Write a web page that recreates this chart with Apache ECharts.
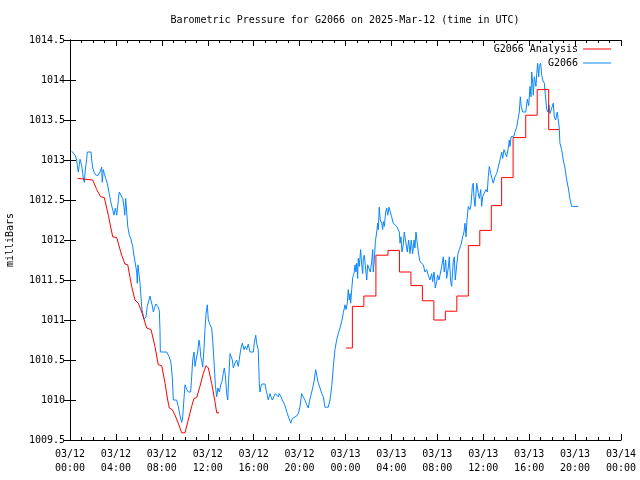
<!DOCTYPE html>
<html>
<head>
<meta charset="utf-8">
<script src="https://cdn.jsdelivr.net/npm/echarts@6/dist/echarts.min.js"></script>
<style>html,body{margin:0;padding:0;background:#fff}#c{width:640px;height:480px}</style>
</head>
<body>
<div id="c"></div>
<script>
// X tick labels (every 4 hours from 2025-03-12 00:00 UTC)
var xTickLabels = ['03/12\n00:00','03/12\n04:00','03/12\n08:00','03/12\n12:00','03/12\n16:00','03/12\n20:00','03/13\n00:00','03/13\n04:00','03/13\n08:00','03/13\n12:00','03/13\n16:00','03/13\n20:00','03/14\n00:00'];
var seriesNames = ['G2066 Analysis', 'G2066'];

// Observations: [hours since 03/12 00:00 UTC, milliBars]
var obs = [[0.15,1013.11],[0.44,1013.06],[0.58,1013.00],[0.64,1012.93],[0.72,1012.85],[0.81,1012.94],[0.87,1013.01],[0.96,1013.01],[1.02,1012.93],[1.11,1012.83],[1.16,1012.77],[1.25,1012.72],[1.31,1012.85],[1.39,1012.94],[1.45,1013.01],[1.51,1013.10],[1.83,1013.10],[1.89,1013.00],[1.98,1012.90],[2.12,1012.84],[2.26,1012.81],[2.47,1012.81],[2.61,1012.85],[2.76,1012.91],[2.81,1012.72],[2.90,1012.88],[2.99,1012.83],[3.11,1012.77],[3.25,1012.71],[3.42,1012.58],[3.55,1012.48],[3.68,1012.40],[3.83,1012.31],[3.95,1012.40],[4.07,1012.31],[4.21,1012.50],[4.29,1012.60],[4.44,1012.58],[4.59,1012.52],[4.70,1012.42],[4.77,1012.31],[4.85,1012.52],[4.94,1012.51],[5.03,1012.17],[5.17,1012.06],[5.29,1012.02],[5.46,1011.92],[5.58,1011.80],[5.75,1011.80],[5.81,1011.60],[5.86,1011.46],[5.92,1011.69],[6.01,1011.69],[6.10,1011.46],[6.16,1011.33],[6.27,1011.13],[6.45,1011.01],[6.62,1011.04],[6.73,1011.17],[6.88,1011.25],[6.97,1011.30],[7.06,1011.24],[7.17,1011.18],[7.26,1011.10],[7.38,1011.16],[7.49,1011.20],[7.64,1011.17],[7.78,1011.12],[7.84,1010.88],[7.87,1010.60],[8.42,1010.60],[8.65,1010.54],[8.80,1010.46],[8.91,1010.29],[9.00,1010.00],[9.29,1010.00],[9.43,1009.92],[9.58,1009.81],[9.73,1009.72],[9.82,1009.79],[9.93,1010.02],[10.02,1010.19],[10.17,1010.13],[10.31,1010.10],[10.51,1010.10],[10.60,1010.29],[10.69,1010.50],[10.80,1010.60],[10.89,1010.42],[10.98,1010.50],[11.12,1010.60],[11.24,1010.75],[11.32,1010.67],[11.39,1010.54],[11.47,1010.50],[11.56,1010.41],[11.67,1010.63],[11.76,1010.88],[11.85,1011.08],[11.96,1011.19],[12.05,1011.00],[12.20,1010.94],[12.34,1010.90],[12.43,1010.75],[12.54,1010.50],[12.66,1010.19],[12.78,1010.04],[12.89,1010.15],[13.01,1010.10],[13.13,1010.19],[13.24,1010.23],[13.35,1010.33],[13.44,1010.40],[13.53,1010.31],[13.65,1010.08],[13.74,1010.00],[13.82,1010.25],[13.94,1010.58],[14.02,1010.60],[14.14,1010.50],[14.23,1010.40],[14.37,1010.46],[14.52,1010.50],[14.66,1010.42],[14.81,1010.44],[14.87,1010.63],[15.01,1010.71],[15.16,1010.63],[15.27,1010.67],[15.39,1010.63],[15.53,1010.70],[15.68,1010.60],[15.97,1010.60],[16.05,1010.71],[16.18,1010.81],[16.26,1010.71],[16.40,1010.63],[16.49,1010.21],[16.55,1010.10],[16.64,1010.17],[16.73,1010.20],[16.99,1010.20],[17.07,1010.13],[17.19,1010.06],[17.27,1010.00],[17.42,1010.08],[17.51,1010.04],[17.62,1010.00],[17.77,1010.00],[17.88,1010.08],[18.01,1010.06],[18.15,1010.04],[18.23,1010.08],[18.38,1010.04],[18.49,1010.00],[18.64,1009.96],[18.79,1009.90],[18.93,1009.83],[19.08,1009.77],[19.23,1009.71],[19.37,1009.77],[19.51,1009.79],[19.75,1009.80],[19.89,1009.83],[20.04,1009.92],[20.18,1010.08],[20.32,1010.04],[20.47,1010.00],[20.62,1009.94],[20.76,1009.90],[20.85,1009.98],[20.99,1010.06],[21.14,1010.15],[21.28,1010.25],[21.40,1010.38],[21.49,1010.31],[21.63,1010.21],[21.78,1010.15],[21.93,1010.08],[22.07,1010.04],[22.21,1009.91],[22.50,1009.91],[22.65,1010.00],[22.80,1010.17],[22.94,1010.42],[23.08,1010.63],[23.23,1010.75],[23.37,1010.83],[23.52,1010.90],[23.67,1010.98],[23.81,1011.09],[23.96,1011.19],[24.04,1011.13],[24.16,1011.21],[24.24,1011.38],[24.33,1011.25],[24.39,1011.33],[24.45,1011.21],[24.54,1011.38],[24.63,1011.53],[24.74,1011.58],[24.83,1011.69],[24.91,1011.60],[24.98,1011.71],[25.06,1011.52],[25.11,1011.77],[25.20,1011.67],[25.32,1011.88],[25.41,1011.69],[25.50,1011.58],[25.55,1011.77],[25.64,1011.81],[25.72,1011.69],[25.85,1011.50],[25.93,1011.69],[26.07,1011.69],[26.16,1011.60],[26.28,1011.73],[26.37,1011.88],[26.42,1011.60],[26.51,1011.75],[26.60,1011.98],[26.72,1012.10],[26.80,1012.21],[26.86,1012.13],[26.94,1012.41],[27.03,1012.25],[27.15,1012.21],[27.24,1012.13],[27.29,1012.23],[27.38,1012.17],[27.50,1012.35],[27.59,1012.40],[27.68,1012.31],[27.79,1012.41],[27.94,1012.41],[28.02,1012.29],[28.16,1012.21],[28.31,1012.21],[28.46,1012.17],[28.60,1012.17],[28.69,1012.10],[28.75,1011.96],[28.83,1012.04],[28.92,1011.85],[29.03,1011.94],[29.12,1012.10],[29.27,1012.10],[29.38,1011.85],[29.50,1012.00],[29.62,1011.83],[29.73,1012.00],[29.85,1011.83],[29.97,1012.00],[30.05,1011.90],[30.14,1012.10],[30.25,1011.96],[30.38,1011.81],[30.49,1011.73],[30.64,1011.71],[30.78,1011.69],[30.92,1011.60],[31.07,1011.63],[31.21,1011.56],[31.36,1011.50],[31.51,1011.58],[31.59,1011.48],[31.71,1011.60],[31.82,1011.40],[31.94,1011.48],[32.03,1011.56],[32.14,1011.50],[32.23,1011.56],[32.38,1011.67],[32.52,1011.79],[32.60,1011.60],[32.73,1011.75],[32.81,1011.52],[32.95,1011.65],[33.04,1011.79],[33.16,1011.48],[33.25,1011.42],[33.39,1011.73],[33.48,1011.79],[33.56,1011.50],[33.69,1011.69],[33.80,1011.83],[33.91,1011.88],[34.06,1011.94],[34.21,1012.04],[34.32,1012.10],[34.41,1012.21],[34.50,1012.04],[34.58,1012.25],[34.70,1012.42],[34.84,1012.38],[34.93,1012.44],[35.05,1012.67],[35.13,1012.71],[35.19,1012.54],[35.28,1012.42],[35.43,1012.71],[35.57,1012.58],[35.66,1012.52],[35.78,1012.63],[35.86,1012.42],[35.95,1012.54],[36.06,1012.58],[36.24,1012.63],[36.35,1012.60],[36.44,1012.79],[36.53,1012.92],[36.65,1012.83],[36.76,1012.77],[36.87,1012.71],[37.02,1012.79],[37.17,1012.83],[37.31,1012.81],[37.46,1013.00],[37.61,1013.10],[37.69,1013.02],[37.81,1013.13],[37.95,1013.13],[38.04,1013.04],[38.18,1013.15],[38.27,1013.25],[38.33,1013.17],[38.42,1013.29],[38.56,1013.27],[38.68,1013.30],[38.76,1013.35],[38.91,1013.41],[39.05,1013.42],[39.14,1013.60],[39.23,1013.79],[39.31,1013.67],[39.44,1013.60],[39.70,1013.60],[39.84,1013.76],[39.96,1013.68],[40.07,1013.92],[40.16,1013.79],[40.22,1014.10],[40.31,1013.96],[40.36,1013.81],[40.45,1014.04],[40.59,1013.92],[40.66,1014.08],[40.74,1014.21],[40.83,1014.04],[40.88,1014.17],[41.00,1014.21],[41.09,1014.06],[41.18,1014.00],[41.32,1013.96],[41.40,1013.83],[41.53,1013.63],[41.64,1013.60],[41.73,1013.69],[41.81,1013.58],[41.96,1013.56],[42.10,1013.71],[42.19,1013.54],[42.31,1013.50],[42.45,1013.60],[42.54,1013.50],[42.62,1013.40],[42.68,1013.21],[42.83,1013.13],[42.97,1013.00],[43.12,1012.90],[43.27,1012.75],[43.41,1012.65],[43.55,1012.52],[43.70,1012.42],[44.28,1012.42]];

// Analysis, first day segment: [hours, milliBars]
var analysisDay1 = [[0.67,1012.77],[1.98,1012.75],[2.33,1012.63],[2.67,1012.54],[2.99,1012.53],[3.34,1012.31],[3.72,1012.04],[4.07,1012.03],[4.50,1011.81],[4.79,1011.70],[5.03,1011.69],[5.37,1011.42],[5.66,1011.25],[5.95,1011.21],[6.25,1011.10],[6.68,1010.90],[7.06,1010.88],[7.40,1010.67],[7.69,1010.44],[7.99,1010.43],[8.28,1010.21],[8.51,1010.00],[8.65,1009.90],[8.91,1009.88],[9.15,1009.81],[9.43,1009.71],[9.73,1009.59],[10.02,1009.59],[10.30,1009.75],[10.60,1009.92],[10.80,1010.02],[11.04,1010.03],[11.32,1010.17],[11.61,1010.33],[11.85,1010.43],[12.05,1010.40],[12.34,1010.21],[12.63,1009.98],[12.78,1009.84],[12.98,1009.84]];

// Analysis, second day segment (hourly steps): [hours, milliBars]
var analysisDay2 = [[24.04,1010.65],[24.60,1011.17],[25.60,1011.30],[26.65,1011.81],[27.70,1011.87],[28.70,1011.60],[29.70,1011.43],[30.70,1011.24],[31.70,1011.00],[32.70,1011.11],[33.70,1011.30],[34.70,1011.93],[35.70,1012.12],[36.70,1012.43],[37.60,1012.78],[38.60,1013.28],[39.70,1013.56],[40.70,1013.88],[41.70,1013.38],[42.60,1013.38]];

var FONT = 'DejaVu Sans Mono';
var RED = '#ff0000', BLUE = '#0a86ff';

var chart = echarts.init(document.getElementById('c'), null, {renderer: 'canvas'});
var xBase = {
  type: 'value', min: 0, max: 48, interval: 4,
  axisLine: {show: true, lineStyle: {color: '#000', width: 1}},
  axisTick: {show: true, inside: true, length: 6, lineStyle: {color: '#000'}},
  minorTick: {show: true, splitNumber: 4, length: 3, lineStyle: {color: '#000'}},
  splitLine: {show: false}
};
chart.setOption({
  animation: false,
  backgroundColor: '#fff',
  textStyle: {fontFamily: FONT, color: '#000'},
  title: {
    text: 'Barometric Pressure for G2066 on 2025-Mar-12 (time in UTC)',
    left: 340, top: 10, textAlign: 'center',
    textStyle: {fontFamily: FONT, fontSize: 10, fontWeight: 'normal', color: '#000'}
  },
  legend: {
    orient: 'vertical', right: 29, top: 44, align: 'right', itemGap: 4, padding: 0,
    itemWidth: 28, itemHeight: 10,
    textStyle: {fontFamily: FONT, fontSize: 10, color: '#000'},
    data: [
      {name: seriesNames[0], icon: 'path://M0,4.5L28,4.5L28,5.5L0,5.5Z', itemStyle: {color: RED}},
      {name: seriesNames[1], icon: 'path://M0,4.5L28,4.5L28,5.5L0,5.5Z', itemStyle: {color: BLUE}}
    ]
  },
  grid: {left: 70, right: 19, top: 40, bottom: 40, containLabel: false, outerBoundsMode: 'none'},
  xAxis: [
    Object.assign({}, xBase, {
      position: 'bottom',
      axisLabel: {show: true, fontFamily: FONT, fontSize: 10, color: '#000', margin: 7, lineHeight: 14,
        formatter: function (v) { return xTickLabels[Math.round(v / 4)] || ''; }}
    }),
    Object.assign({}, xBase, {position: 'top', axisLabel: {show: false}})
  ],
  yAxis: [
    {
      type: 'value', min: 1009.5, max: 1014.5, interval: 0.5, position: 'left',
      name: 'milliBars', nameLocation: 'middle', nameGap: 55, nameRotate: 90,
      nameTextStyle: {fontFamily: FONT, fontSize: 10, color: '#000'},
      axisLine: {show: true, lineStyle: {color: '#000'}},
      axisTick: {show: true, inside: true, length: 6, lineStyle: {color: '#000'}},
      splitLine: {show: false},
      axisLabel: {fontFamily: FONT, fontSize: 10, color: '#000', margin: 5,
        formatter: function (v) { return String(Math.round(v * 10) / 10); }}
    },
    {
      type: 'value', min: 1009.5, max: 1014.5, interval: 0.5, position: 'right',
      axisLine: {show: true, lineStyle: {color: '#000'}},
      axisTick: {show: true, inside: true, length: 6, lineStyle: {color: '#000'}},
      splitLine: {show: false}, axisLabel: {show: false}
    }
  ],
  series: [
    {name: seriesNames[0], type: 'line', data: analysisDay1, showSymbol: false, symbol: 'none',
      lineStyle: {color: RED, width: 1}, itemStyle: {color: RED}, z: 3},
    {name: seriesNames[0], type: 'line', data: analysisDay2, step: 'end', showSymbol: false, symbol: 'none',
      lineStyle: {color: RED, width: 1}, itemStyle: {color: RED}, z: 3},
    {name: seriesNames[1], type: 'line', data: obs, showSymbol: false, symbol: 'none',
      lineStyle: {color: BLUE, width: 1}, itemStyle: {color: BLUE}, z: 2}
  ]
});
</script>
</body>
</html>
